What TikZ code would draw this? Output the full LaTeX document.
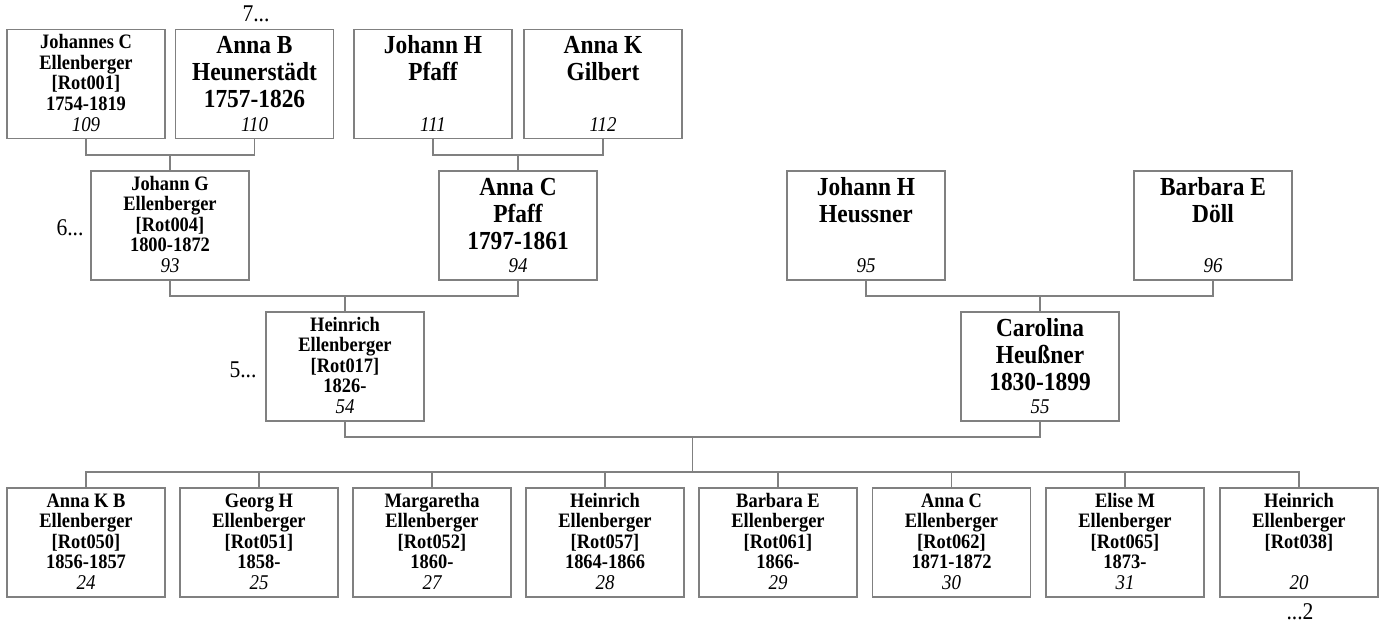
\documentclass[tikz,border=0pt]{standalone}
\usepackage{fontspec}
\setmainfont{Liberation Serif}[FakeStretch=0.9]
\definecolor{linegray}{RGB}{128,128,128}
\tikzset{
  pbox/.style={draw=linegray, line width=1.2pt, minimum width=158pt, minimum height=109pt, inner sep=0pt, fill=white},
  small/.style={font=\bfseries\fontsize{20.5}{20.5}\selectfont, align=center, anchor=north, inner sep=0pt},
  big/.style={font=\bfseries\fontsize{26}{27}\selectfont, align=center, anchor=north, inner sep=0pt},
  num/.style={font=\itshape\fontsize{21}{22}\selectfont, anchor=base, inner sep=0pt},
  conn/.style={draw=linegray, line width=1.2pt},
  gen/.style={font=\fontsize{24}{26}\selectfont, inner sep=0pt}
}
\newcommand\smallperson[5]{%
  \node[pbox] (#1) at (#2,#3) {};
  \node[small] (#1t) at (#1.north) {\rule{0pt}{19.5pt}#4};
  \node[num] (#1n) at ([yshift=8pt]#1.south) {#5};
}
\newcommand\bigperson[5]{%
  \node[pbox] (#1) at (#2,#3) {};
  \node[big] (#1t) at (#1.north) {\rule{0pt}{24.5pt}#4};
  \node[num] (#1n) at ([yshift=8pt]#1.south) {#5};
}
\begin{document}
\begin{tikzpicture}[x=1pt,y=-1pt]
\fill[white] (0,0) rectangle (1382,623);
\useasboundingbox (0,0) rectangle (1382,623);
% row 1
\smallperson{p109}{86}{84}{Johannes C\\Ellenberger\\{[Rot001]}\\1754-1819}{109}
\bigperson{p110}{254.5}{84}{Anna B\\Heunerstädt\\1757-1826}{110}
\bigperson{p111}{433}{84}{Johann H\\Pfaff}{111}
\bigperson{p112}{603}{84}{Anna K\\Gilbert}{112}
% row 2
\smallperson{p93}{170}{225.5}{Johann G\\Ellenberger\\{[Rot004]}\\1800-1872}{93}
\bigperson{p94}{518}{225.5}{Anna C\\Pfaff\\1797-1861}{94}
\bigperson{p95}{866}{225.5}{Johann H\\Heussner}{95}
\bigperson{p96}{1213}{225.5}{Barbara E\\Döll}{96}
% row 3
\smallperson{p54}{345}{366.5}{Heinrich\\Ellenberger\\{[Rot017]}\\1826-}{54}
\bigperson{p55}{1040}{366.5}{Carolina\\Heußner\\1830-1899}{55}
% row 4
\smallperson{c24}{86}{542.5}{Anna K B\\Ellenberger\\{[Rot050]}\\1856-1857}{24}
\smallperson{c25}{259}{542.5}{Georg H\\Ellenberger\\{[Rot051]}\\1858-}{25}
\smallperson{c27}{432}{542.5}{Margaretha\\Ellenberger\\{[Rot052]}\\1860-}{27}
\smallperson{c28}{605}{542.5}{Heinrich\\Ellenberger\\{[Rot057]}\\1864-1866}{28}
\smallperson{c29}{778}{542.5}{Barbara E\\Ellenberger\\{[Rot061]}\\1866-}{29}
\smallperson{c30}{951.5}{542.5}{Anna C\\Ellenberger\\{[Rot062]}\\1871-1872}{30}
\smallperson{c31}{1125}{542.5}{Elise M\\Ellenberger\\{[Rot065]}\\1873-}{31}
\smallperson{c20}{1299}{542.5}{Heinrich\\Ellenberger\\{[Rot038]}}{20}
% generation labels
\node[gen] (g7) at (256,14) {7...};
\node[gen] (g6) at (70,228) {6...};
\node[gen] (g5) at (243,370) {5...};
\node[gen] (g2) at (1300,612) {...2};
% junctions
\coordinate (j1) at (170,155);
\coordinate (j2) at (518,155);
\coordinate (j3) at (345,296);
\coordinate (j4) at (1040,296);
\coordinate (j5) at (692.5,437);
\coordinate (j6) at (692.5,472);
% connectors
\draw[conn] (p109.south) |- (j1) -| (p110.south);
\draw[conn] (j1) -- (p93.north);
\draw[conn] (p111.south) |- (j2) -| (p112.south);
\draw[conn] (j2) -- (p94.north);
\draw[conn] (p93.south) |- (j3) -| (p94.south);
\draw[conn] (j3) -- (p54.north);
\draw[conn] (p95.south) |- (j4) -| (p96.south);
\draw[conn] (j4) -- (p55.north);
\draw[conn] (p54.south) |- (j5) -| (p55.south);
\draw[conn] (j5) -- (j6);
\draw[conn] (c24.north) |- (j6) -| (c20.north);
\foreach \c in {c25,c27,c28,c29,c30,c31}{
  \draw[conn] (\c.north) -- (\c.north |- j6);
}
\end{tikzpicture}
\end{document}
